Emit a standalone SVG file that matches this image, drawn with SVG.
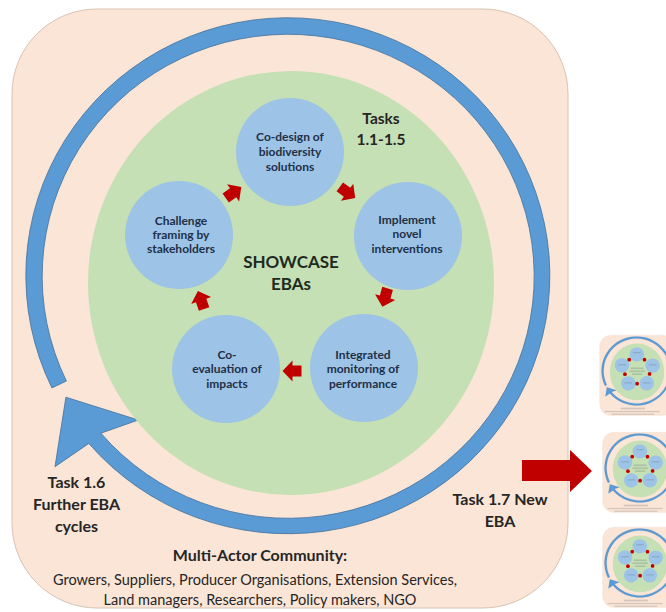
<svg xmlns="http://www.w3.org/2000/svg" xmlns:xlink="http://www.w3.org/1999/xlink" width="666" height="612" viewBox="0 0 666 612">
<style>
.panel{fill:#FBE5D6;stroke:#D8C2B2;stroke-width:1}
.ring{fill:#5B9BD5;stroke:#41719C;stroke-width:0.8}
.core{fill:#C5E0B4}
.step{fill:#9DC3E6}
.red{fill:#C00000}
.t{font-family:Lato,"Liberation Sans",sans-serif;font-weight:bold;text-anchor:middle}
.st{font-size:12px;fill:#1F3047}
.big{font-size:16px;fill:#262626}
.lab{font-size:15.5px;fill:#262626}
.body{font-family:Lato,"Liberation Sans",sans-serif;font-size:14.5px;fill:#262626;text-anchor:middle}
.blur{fill:#5a6470;opacity:0.25}
</style>
<defs>
<polygon id="sarrow" points="-9.5,-5.5 -0.5,-5.5 -0.5,-10.5 9.5,0 -0.5,10.5 -0.5,5.5 -9.5,5.5"/>
<path id="ringpath" d="M51.9,387.9 A262,258 0 1 1 88.8,443.5 L55,466.7 L65.9,397.2 L138.3,420 L100.9,433.2 A246,242 0 1 0 66.4,381 Z"/>
<g id="mini">
<rect class="panel" x="12" y="9" width="556" height="599" rx="85" stroke-width="6"/>
<use xlink:href="#ringpath" class="ring" stroke-width="5"/>
<ellipse class="core" cx="291" cy="283" rx="203" ry="212"/>
<circle class="step" cx="290" cy="152" r="54"/>
<circle class="step" cx="408" cy="236" r="54"/>
<circle class="step" cx="364" cy="368" r="54"/>
<circle class="step" cx="226" cy="369" r="54"/>
<circle class="step" cx="179" cy="235" r="54"/>
<circle class="red" cx="233" cy="192" r="14"/>
<circle class="red" cx="347" cy="192" r="14"/>
<circle class="red" cx="385" cy="298" r="14"/>
<circle class="red" cx="292" cy="371" r="14"/>
<circle class="red" cx="201" cy="300" r="14"/>
<rect class="blur" x="245" y="250" width="95" height="12"/>
<rect class="blur" x="235" y="272" width="115" height="12"/>
<rect class="blur" x="255" y="294" width="75" height="12"/>
<rect class="blur" x="262" y="135" width="56" height="9"/>
<rect class="blur" x="380" y="225" width="56" height="9"/>
<rect class="blur" x="150" y="225" width="58" height="9"/>
<rect class="blur" x="336" y="360" width="56" height="9"/>
<rect class="blur" x="198" y="360" width="56" height="9"/>
<rect class="blur" x="170" y="550" width="180" height="12"/>
<rect class="blur" x="50" y="574" width="410" height="9"/>
<rect class="blur" x="100" y="594" width="320" height="9"/>
</g>
</defs>

<rect id="panel" class="panel" x="12" y="9" width="556" height="599" rx="85"/>

<g id="connectors">
<use id="cycle-arrow" xlink:href="#ringpath" class="ring"/>
</g>

<ellipse id="showcase-area" class="core" cx="291" cy="283" rx="203" ry="212"/>

<g id="node-codesign">
<circle class="step" cx="290" cy="152" r="54"/>
<text class="t st" x="290" y="141">Co-design of</text>
<text class="t st" x="290" y="156">biodiversity</text>
<text class="t st" x="290" y="171">solutions</text>
</g>
<g id="node-implement">
<circle class="step" cx="408" cy="236" r="54"/>
<text class="t st" x="407" y="224">Implement</text>
<text class="t st" x="407" y="238">novel</text>
<text class="t st" x="407" y="253">interventions</text>
</g>
<g id="node-monitoring">
<circle class="step" cx="364" cy="368" r="54"/>
<text class="t st" x="363" y="359">Integrated</text>
<text class="t st" x="363" y="373">monitoring of</text>
<text class="t st" x="363" y="388">performance</text>
</g>
<g id="node-coevaluation">
<circle class="step" cx="226" cy="369" r="54"/>
<text class="t st" x="227" y="359">Co-</text>
<text class="t st" x="227" y="373">evaluation of</text>
<text class="t st" x="227" y="388">impacts</text>
</g>
<g id="node-challenge">
<circle class="step" cx="179" cy="235" r="54"/>
<text class="t st" x="181" y="225">Challenge</text>
<text class="t st" x="181" y="239">framing by</text>
<text class="t st" x="181" y="253">stakeholders</text>
</g>

<g id="label-showcase">
<text class="t" x="291" y="268" style="font-size:17px;fill:#1E2A1E">SHOWCASE</text>
<text class="t" x="291" y="290" style="font-size:17px;fill:#1E2A1E">EBAs</text>
</g>
<g id="label-tasks">
<text class="t lab" x="381" y="124">Tasks</text>
<text class="t lab" x="381" y="145">1.1-1.5</text>
</g>

<g id="connectors-steps">
<use xlink:href="#sarrow" class="red" transform="translate(233.5,192.5) rotate(-35)"/>
<use xlink:href="#sarrow" class="red" transform="translate(347.5,192.5) rotate(36)"/>
<use xlink:href="#sarrow" class="red" transform="translate(385,297.5) rotate(106)"/>
<use xlink:href="#sarrow" class="red" transform="translate(292,371) rotate(180)"/>
<use xlink:href="#sarrow" class="red" transform="translate(201,300) rotate(251)"/>
<polygon id="new-eba-arrow" class="red" points="522,460 570,460 570,450 592,471 570,492 570,481 522,481"/>
</g>

<g id="label-task16">
<text class="t big" x="76.5" y="488">Task 1.6</text>
<text class="t big" x="76.5" y="510">Further EBA</text>
<text class="t big" x="76.5" y="532">cycles</text>
</g>
<g id="label-task17">
<text class="t big" x="500" y="505">Task 1.7 New</text>
<text class="t big" x="500" y="527">EBA</text>
</g>
<g id="label-community">
<text class="t big" x="260" y="561">Multi-Actor Community:</text>
<text class="body" x="255" y="585">Growers, Suppliers, Producer Organisations, Extension Services,</text>
<text class="body" x="260" y="605">Land managers, Researchers, Policy makers, NGO</text>
</g>

<g id="new-ebas">
<use xlink:href="#mini" transform="translate(598,334) scale(0.134)"/>
<use xlink:href="#mini" transform="translate(601,431) scale(0.134)"/>
<use xlink:href="#mini" transform="translate(601,526) scale(0.134)"/>
</g>
</svg>
